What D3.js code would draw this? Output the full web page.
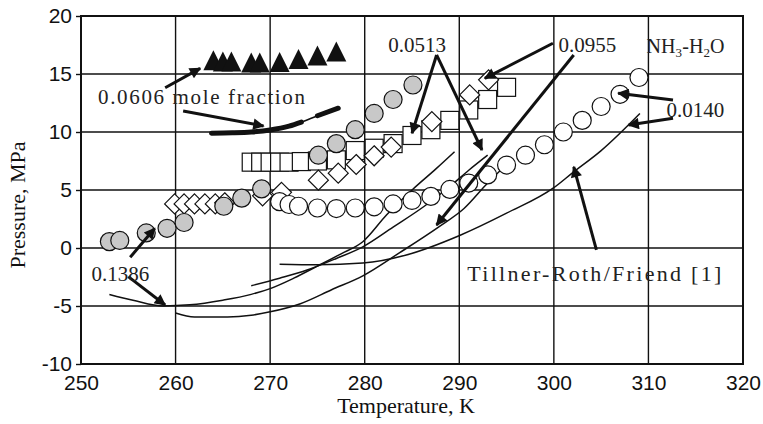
<!DOCTYPE html>
<html>
<head>
<meta charset="utf-8">
<script src="https://cdn.jsdelivr.net/npm/d3@7"></script>
<style>
  body { margin: 0; background: #fff; }
  svg { display: block; }
</style>
</head>
<body>
<div id="chart"></div>
<script>
// measured points, temperature K / pressure MPa
const grayCircles = [[253,0.55],[254.1,0.65],[256.9,1.3],[259.1,1.7],[260.9,2.2],[265.1,3.6],[267,4.3],[269.1,5.1],
  [275.1,8.0],[277,9.0],[279,10.2],[281,11.6],[283,12.8],[285.1,14.05]];
const whiteCircles = [[271,4.0],[272,3.75],[273,3.6],[275,3.45],[277,3.4],[279,3.45],[281,3.55],[283,3.8],[285,4.1],
  [287,4.45],[289,5.05],[291,5.6],[293,6.3],[295,7.15],[297,8.0],[299,8.9],[301,10.0],[303,11.0],[305,12.2],[307,13.25],[309,14.7]];
const squares = [[268,7.4],[269,7.4],[270,7.4],[271,7.4],[272,7.4],[273.3,7.45],[275,7.5],[277,7.6],[279,8.4],[281,8.6],
  [283,9.0],[285,9.7],[287,10.2],[289,11.0],[291,11.9],[293,12.8],[295,13.85]];
const diamonds = [[259.9,3.8],[260.9,3.8],[262,3.8],[263.1,3.8],[264.2,3.8],[265.2,3.9],[269.2,4.5],[271.2,4.8],
  [275.1,5.85],[277.2,6.45],[279.1,7.2],[281,7.95],[282.8,8.7],[287.1,10.9],[291.1,13.2],[293.1,14.5]];
const triangles = [[264,16.1],[265,16.0],[265.9,16.0],[268,15.9],[268.9,15.9],[271,15.95],[273,16.2],[275,16.5],[277,16.85]];

// Tillner-Roth/Friend curves
const curve0606 = [[263.8,9.9],[266,9.93],[268,10.0],[270,10.17],[272,10.5],[273.3,10.85],[275,11.4],[277.2,12.05]];
const curve0606Thick = [[0,5],[6,7]];
const curve1386 = [[253,-4.0],[255.5,-4.5],[258.7,-5.0],[261.5,-4.9],[265,-4.5],[268,-4.0],[270,-3.5],[272.5,-2.6],
  [274.9,-1.6],[277.5,-0.5],[279.8,0.54],[282.3,2.84],[285,5.0],[287.5,6.8],[289.5,8.3]];
const curve0513 = [[268,-3.25],[271,-2.6],[273.9,-1.9],[277,-0.9],[279.8,0.1],[283,1.8],[286.3,3.6],[289,5.3],[291,6.7],[293,8.0]];
const curve0955 = [[260,-5.6],[262,-5.95],[265.5,-5.95],[268,-5.8],[270,-5.5],[273.2,-4.8],[276.5,-3.6],[279.8,-2.4],
  [283.7,-0.4],[287.8,1.8],[290.5,3.4],[293,5.6],[295,7.2]];
const curve0140 = [[271,-1.4],[275,-1.45],[279.8,-1.3],[284.4,-0.6],[290.1,1.1],[295,3.0],[300,5.2],[302,6.5],[305,8.4],[309.1,11.6]];

const xTicks = [250,260,270,280,290,300,310,320];
const yTicks = [-10,-5,0,5,10,15,20];

// annotation arrows [from, to] in data units
const arrows = [
  [[258.9,13.82],[262.6,15.49]],
  [[260.8,11.81],[269.3,10.52]],
  [[287.6,16.64],[285.0,9.89]],
  [[287.6,16.64],[292.4,8.45]],
  [[299.9,17.65],[292.7,14.63]],
  [[302.1,16.64],[287.6,1.98]],
  [[312.6,12.76],[306.8,13.34]],
  [[312.6,11.18],[307.9,10.6]],
  [[255.2,-0.8],[257.8,1.7]],
  [[255.0,-2.47],[258.9,-4.91]],
  [[304.5,-0.17],[302.1,7.0]]
];

const labels = [
  {text: "0.0606 mole fraction", t: 251.8, p: 12.4, size: 21, len: 207},
  {text: "0.0513", t: 282.5, p: 16.9, size: 21},
  {text: "0.0955", t: 300.5, p: 16.9, size: 21},
  {text: "0.0140", t: 311.9, p: 11.3, size: 21},
  {text: "0.1386", t: 251.1, p: -2.84, size: 21},
  {text: "Tillner-Roth/Friend [1]", t: 290.85, p: -2.84, size: 22, len: 254}
];

const width = 763, height = 424;
const svg = d3.select("#chart").append("svg")
  .attr("width", width).attr("height", height)
  .style("font-family", "'Liberation Serif', 'Times New Roman', serif");

const x = d3.scaleLinear().domain([250, 320]).range([81, 743]);
const y = d3.scaleLinear().domain([-10, 20]).range([364, 16]);

// grid
svg.append("g").selectAll("line").data(xTicks.slice(1, -1)).enter().append("line")
  .attr("x1", d => x(d)).attr("x2", d => x(d)).attr("y1", y(20)).attr("y2", y(-10))
  .attr("stroke", "#111").attr("stroke-width", 1.4);
svg.append("g").selectAll("line").data(yTicks.slice(1, -1)).enter().append("line")
  .attr("x1", x(250)).attr("x2", x(320)).attr("y1", d => y(d)).attr("y2", d => y(d))
  .attr("stroke", "#111").attr("stroke-width", 1.4);

// frame
svg.append("rect").attr("x", x(250)).attr("y", y(20))
  .attr("width", x(320) - x(250)).attr("height", y(-10) - y(20))
  .attr("fill", "none").attr("stroke", "#111").attr("stroke-width", 2);

// axes
const xAxis = svg.append("g").attr("transform", `translate(0,${y(-10)})`)
  .call(d3.axisBottom(x).tickValues(xTicks).tickSize(0).tickPadding(0));
xAxis.select(".domain").remove();
xAxis.selectAll("text").attr("dy", null).attr("y", 26).attr("fill", "#111").style("font-size", "21px");

const yAxis = svg.append("g").attr("transform", `translate(${x(250)},0)`)
  .call(d3.axisLeft(y).tickValues(yTicks).tickSize(5).tickPadding(4).tickFormat(d => d));
yAxis.select(".domain").remove();
yAxis.selectAll("line").attr("stroke", "#111").attr("stroke-width", 1.4);
yAxis.selectAll("text").attr("fill", "#111").style("font-size", "21px").attr("dy", "0.3em");

svg.append("text").attr("x", 406).attr("y", 413).attr("text-anchor", "middle")
  .style("font-size", "22px").attr("fill", "#111").text("Temperature, K");
svg.append("text").attr("transform", `translate(25,${205}) rotate(-90)`).attr("text-anchor", "middle")
  .style("font-size", "22px").attr("fill", "#111").text("Pressure, MPa");

const line = d3.line().x(d => x(d[0])).y(d => y(d[1])).curve(d3.curveMonotoneX);

// thin curves
[curve1386, curve0513, curve0955, curve0140].forEach(c => {
  svg.append("path").datum(c).attr("d", line)
    .attr("fill", "none").attr("stroke", "#111").attr("stroke-width", 1.5);
});
svg.append("path").datum(curve0606).attr("d", line)
  .attr("fill", "none").attr("stroke", "#111").attr("stroke-width", 1.6);
curve0606Thick.forEach(([a, b]) => {
  svg.append("path").datum(curve0606.slice(a, b + 1)).attr("d", line)
    .attr("fill", "none").attr("stroke", "#111").attr("stroke-width", 5).attr("stroke-linecap", "round");
});

// markers
const R = 9;
svg.append("g").selectAll("rect").data(squares).enter().append("rect")
  .attr("x", d => x(d[0]) - R).attr("y", d => y(d[1]) - R).attr("width", 2 * R).attr("height", 2 * R)
  .attr("fill", "#fff").attr("stroke", "#111").attr("stroke-width", 1.2);
svg.append("g").selectAll("path").data(diamonds).enter().append("path")
  .attr("d", d => `M${x(d[0])},${y(d[1]) - 10}l10,10l-10,10l-10,-10z`)
  .attr("fill", "#fff").attr("stroke", "#111").attr("stroke-width", 1.2);
svg.append("g").selectAll("circle").data(whiteCircles).enter().append("circle")
  .attr("cx", d => x(d[0])).attr("cy", d => y(d[1])).attr("r", R)
  .attr("fill", "#fff").attr("stroke", "#111").attr("stroke-width", 1.2);
svg.append("g").selectAll("circle").data(grayCircles).enter().append("circle")
  .attr("cx", d => x(d[0])).attr("cy", d => y(d[1])).attr("r", R)
  .attr("fill", "#c8c8c8").attr("stroke", "#111").attr("stroke-width", 1.2);
svg.append("g").selectAll("path").data(triangles).enter().append("path")
  .attr("d", d => `M${x(d[0])},${y(d[1]) - 11}l10,20l-20,0z`)
  .attr("fill", "#111");

// arrows
svg.append("defs").append("marker").attr("id", "head")
  .attr("viewBox", "0 0 10 10").attr("refX", 9).attr("refY", 5)
  .attr("markerWidth", 4.8).attr("markerHeight", 3.8).attr("orient", "auto")
  .attr("markerUnits", "strokeWidth")
  .append("path").attr("d", "M0,0L10,5L0,10z").attr("fill", "#111");
svg.append("g").selectAll("line").data(arrows).enter().append("line")
  .attr("x1", d => x(d[0][0])).attr("y1", d => y(d[0][1]))
  .attr("x2", d => x(d[1][0])).attr("y2", d => y(d[1][1]))
  .attr("stroke", "#111").attr("stroke-width", 3).attr("marker-end", "url(#head)");

// labels
labels.forEach(l => {
  const t = svg.append("text").attr("x", x(l.t)).attr("y", y(l.p))
    .style("font-size", l.size + "px").attr("fill", "#222").text(l.text);
  if (l.len) t.attr("textLength", l.len).attr("lengthAdjust", "spacing");
});

const nh3 = svg.append("text").attr("x", x(309.8)).attr("y", y(16.8))
  .style("font-size", "20px").attr("fill", "#222")
  .attr("textLength", 78).attr("lengthAdjust", "spacing");
nh3.append("tspan").text("NH");
nh3.append("tspan").attr("dy", 4).style("font-size", "13px").text("3");
nh3.append("tspan").attr("dy", -4).text("-H");
nh3.append("tspan").attr("dy", 4).style("font-size", "13px").text("2");
nh3.append("tspan").attr("dy", -4).text("O");
</script>
</body>
</html>
